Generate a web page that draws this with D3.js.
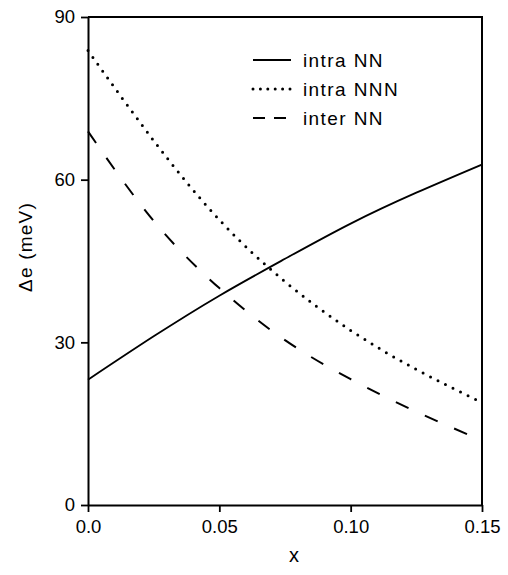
<!DOCTYPE html>
<html>
<head>
<meta charset="utf-8">
<script src="https://cdn.jsdelivr.net/npm/d3@7/dist/d3.min.js"></script>
<style>
  body { margin: 0; background: #fff; }
  svg { display: block; font-family: "Liberation Sans", Arial, sans-serif; }
</style>
</head>
<body>
<svg id="chart" width="508" height="575"></svg>
<script>
// values
const xValues = [0, 0.025, 0.05, 0.075, 0.1, 0.125, 0.15];
const intraNN = [23.1, 31.1, 38.6, 45.4, 51.9, 57.6, 62.8];
const intraNNN = [83.8, 67.2, 52.6, 41.2, 32.2, 25.0, 18.9];
const interNN = [68.9, 52.4, 40.0, 30.4, 23.2, 17.2, 11.9];
const xTicks = [0, 0.05, 0.10, 0.15];
const xTickLabels = ['0.0', '0.05', '0.10', '0.15'];
const yTicks = [0, 30, 60, 90];
const seriesNames = ['intra NN', 'intra NNN', 'inter NN'];

const svg = d3.select('#chart');
const plot = { left: 88, right: 482, top: 17, bottom: 505 };

const x = d3.scaleLinear().domain([0, 0.15]).range([plot.left, plot.right]);
const y = d3.scaleLinear().domain([0, 90]).range([plot.bottom, plot.top]);

// line styles for the three series
const styles = [
    { dash: null, width: 1.8, cap: 'butt' },
    { dash: '0,8.4', width: 3, cap: 'round' },
    { dash: '14,18', width: 2, cap: 'butt' }
];
const series = [intraNN, intraNNN, interNN];

// frame (top and right)
svg.append('path')
    .attr('d', `M${plot.left},${plot.top}H${plot.right}V${plot.bottom}`)
    .attr('fill', 'none')
    .attr('stroke', '#000')
    .attr('stroke-width', 2);

// axes
const xAxis = svg.append('g')
    .attr('transform', `translate(0,${plot.bottom})`)
    .call(d3.axisBottom(x).tickValues(xTicks)
        .tickFormat((d, i) => xTickLabels[i])
        .tickSize(7).tickPadding(8).tickSizeOuter(0));

const yAxis = svg.append('g')
    .attr('transform', `translate(${plot.left},0)`)
    .call(d3.axisLeft(y).tickValues(yTicks)
        .tickSize(7).tickPadding(6).tickSizeOuter(0));

[xAxis, yAxis].forEach(g => {
    g.select('.domain').attr('stroke-width', 2);
    g.selectAll('.tick line').attr('stroke-width', 1.8);
    g.selectAll('.tick text')
        .attr('font-size', 18.5)
        .attr('font-family', '"Liberation Sans", Arial, sans-serif')
        .attr('fill', '#000');
});

// curves
const line = d3.line()
    .x((d, i) => x(xValues[i]))
    .y(d => y(d))
    .curve(d3.curveNatural);

svg.append('g')
    .selectAll('path.curve')
    .data(series)
    .join('path')
    .attr('class', 'curve')
    .attr('d', line)
    .attr('fill', 'none')
    .attr('stroke', '#000')
    .attr('stroke-width', (d, i) => styles[i].width)
    .attr('stroke-linecap', (d, i) => styles[i].cap)
    .attr('stroke-dasharray', (d, i) => styles[i].dash);

// legend
const legendDash = [null, '0,7.4', '12,9'];
const legend = svg.append('g')
    .selectAll('g')
    .data(seriesNames)
    .join('g')
    .attr('transform', (d, i) => `translate(252,${60 + i * 29})`);

legend.append('line')
    .attr('x1', 1).attr('x2', 39)
    .attr('stroke', '#000')
    .attr('stroke-width', (d, i) => styles[i].width)
    .attr('stroke-linecap', (d, i) => styles[i].cap)
    .attr('stroke-dasharray', (d, i) => legendDash[i]);

legend.append('text')
    .attr('x', 51)
    .attr('dy', '0.36em')
    .attr('font-size', 19)
    .attr('letter-spacing', 1.4)
    .text(d => d);

// axis titles
svg.append('text')
    .attr('x', 294)
    .attr('y', 562)
    .attr('text-anchor', 'middle')
    .attr('font-size', 20)
    .text('x');

svg.append('text')
    .attr('transform', 'translate(32,247) rotate(-90)')
    .attr('text-anchor', 'middle')
    .attr('font-size', 19)
    .attr('letter-spacing', 1.2)
    .text('Δe (meV)');
</script>
</body>
</html>
